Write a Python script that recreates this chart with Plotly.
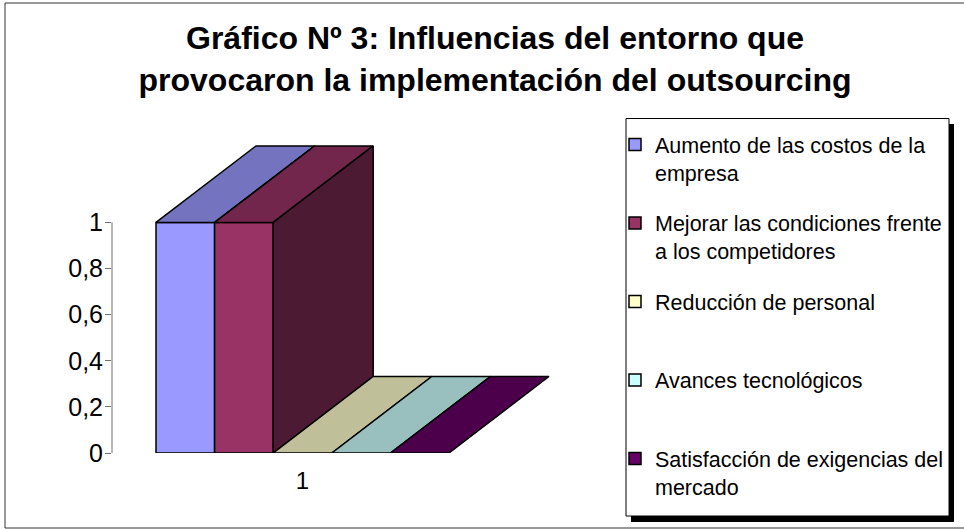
import textwrap
import plotly.graph_objects as go

# ---------------- data ----------------
categories = ["1"]
series = [
    "Aumento de las costos de la empresa",
    "Mejorar las condiciones frente a los competidores",
    "Reducción de personal",
    "Avances tecnológicos",
    "Satisfacción de exigencias del mercado",
]
values = [1, 1, 0, 0, 0]
front_colors = ["#9999FF", "#993366", "#FFFFCC", "#CCFFFF", "#660066"]
y_ticks = [0, 0.2, 0.4, 0.6, 0.8, 1]
title_lines = ["Gráfico Nº 3: Influencias del entorno que",
               "provocaron la implementación del outsourcing"]

# ---------------- geometry / layout constants ----------------
W, H = 964, 529
ML, MR, MT, MB = 112, 410, 140, 76
PW, PH = W - ML - MR, H - MT - MB
XS = 58.6          # px per bar unit
YS = 230.6         # px per value unit
X0 = -44 / XS
XR = [X0, X0 + PW / XS]
YR = [0, PH / YS]
DX = 100 / XS      # depth offset (x, data units)
DY = 76.5 / YS     # depth offset (y, data units)
FONT = "Liberation Sans, Arial, sans-serif"


def shade(hexc, f):
    h = hexc.lstrip("#")
    r, g, b = (int(h[i:i + 2], 16) for i in (0, 2, 4))
    return "#%02X%02X%02X" % (round(r * f), round(g * f), round(b * f))


def pxx(p):
    return (p - ML) / PW


def pxy(p):
    return (H - MB - p) / PH


fig = go.Figure()

# front faces (bars, also legend entries)
for i, (name, v, c) in enumerate(zip(series, values, front_colors)):
    lines = textwrap.wrap(name, 30)
    while len(lines) < 2:
        lines.append("\u00a0")
    fig.add_trace(go.Bar(
        x=[i + 0.5], y=[v], width=[1], name="<br>".join(lines),
        legendgroup=f"g{i}",
        marker=dict(color=c, line=dict(color="black", width=1.5)),
        hoverinfo="skip",
    ))

# top and visible side faces (3-D effect), painted left to right
for i, (v, c) in enumerate(zip(values, front_colors)):
    xa, xb = i, i + 1
    fig.add_trace(go.Scatter(
        x=[xa, xb, xb + DX, xa + DX, xa], y=[v, v, v + DY, v + DY, v],
        mode="lines", fill="toself", fillcolor=shade(c, 0.75),
        line=dict(color="black", width=1.5), showlegend=False, hoverinfo="skip"))
    nv = values[i + 1] if i + 1 < len(values) else 0
    if v > nv:
        fig.add_trace(go.Scatter(
            x=[xb, xb, xb + DX, xb + DX, xb], y=[nv, v, v + DY, nv + DY, nv],
            mode="lines", fill="toself", fillcolor=shade(c, 0.5),
            line=dict(color="black", width=1.5), showlegend=False, hoverinfo="skip"))

shapes = [
    # outer chart border
    dict(type="rect", xref="paper", yref="paper", x0=pxx(5), x1=pxx(975),
         y0=pxy(528), y1=pxy(3), line=dict(color="#333333", width=1), layer="below"),
    # y axis line (0..1)
    dict(type="line", xref="paper", yref="y", x0=0, x1=0, y0=0, y1=max(y_ticks),
         line=dict(color="#707070", width=1)),
    # legend shadow and box
    dict(type="rect", xref="paper", yref="paper", x0=pxx(631), x1=pxx(954),
         y0=pxy(522), y1=pxy(124), fillcolor="black", line=dict(width=0), layer="above"),
    dict(type="rect", xref="paper", yref="paper", x0=pxx(626), x1=pxx(949),
         y0=pxy(516), y1=pxy(118.5), fillcolor="white",
         line=dict(color="black", width=1), layer="above"),
]

fig.update_layout(
    width=W, height=H,
    margin=dict(l=ML, r=MR, t=MT, b=MB, pad=0, autoexpand=False),
    paper_bgcolor="white", plot_bgcolor="white",
    separators=",.",
    barmode="overlay",
    font=dict(family=FONT, color="black"),
    title=dict(text="<br>".join(title_lines), x=495 / W, xref="container", xanchor="center",
               y=1 - 49 / H, yref="container", yanchor="top",
               font=dict(family=FONT, size=32, color="black", weight="bold")),
    xaxis=dict(range=XR, showgrid=False, zeroline=False, showline=False,
               tickvals=[len(values) / 2], ticktext=categories,
               ticks="", ticklabelstandoff=11, automargin=False,
               tickfont=dict(size=24, color="black"), fixedrange=True),
    yaxis=dict(range=YR, showgrid=False, zeroline=False, showline=False,
               tickvals=y_ticks, ticks="outside", ticklen=6, tickcolor="#707070",
               ticklabelstandoff=-3, automargin=False,
               tickfont=dict(size=25, color="black"), fixedrange=True),
    legend=dict(x=615 / W, xref="container", xanchor="left",
                y=1 - 124 / H, yref="container", yanchor="top",
                bgcolor="rgba(0,0,0,0)", borderwidth=0, maxheight=600,
                font=dict(family=FONT, size=21.5, color="black"),
                valign="top", tracegroupgap=19.6, traceorder="grouped"),
    shapes=shapes,
    showlegend=True,
)

fig.write_html(
    "out.html",
    config={"displayModeBar": False},
    post_script="document.body.style.margin='0px';document.body.style.overflow='hidden';",
)
